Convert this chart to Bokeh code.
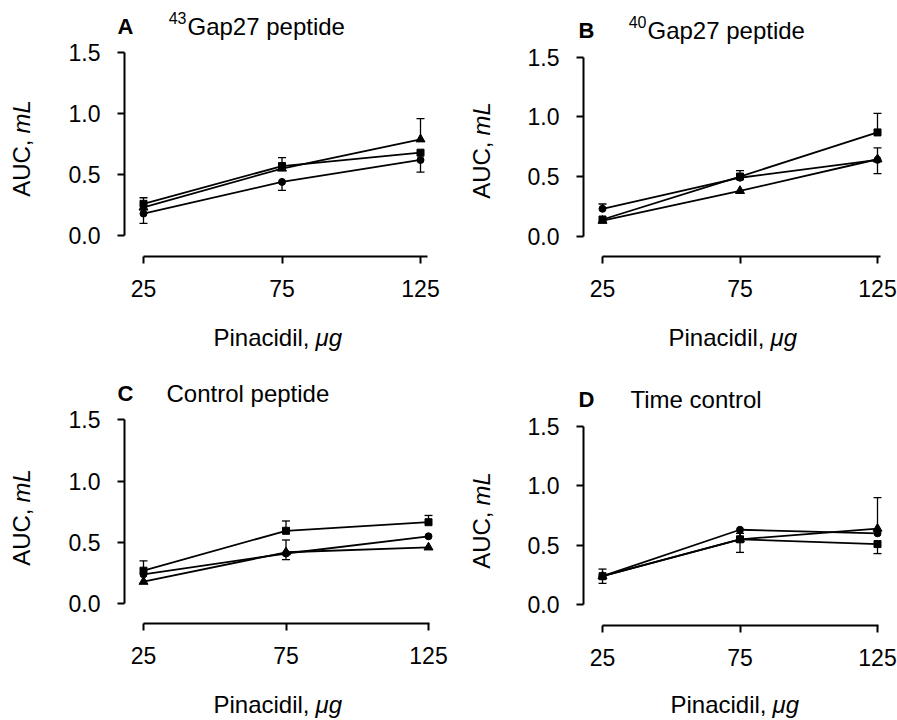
from math import pi
from bokeh.plotting import figure
from bokeh.layouts import gridplot
from bokeh.models import (Label, Range1d, FixedTicker, Whisker, ColumnDataSource,
                          TeeHead, PrintfTickFormatter, LinearAxis)
from bokeh.embed import file_html
from bokeh.resources import INLINE

# ---------------- data ----------------
doses = [25, 75, 125]
x_tick_values = [25, 75, 125]
y_tick_values = [0.0, 0.5, 1.0, 1.5]
x_label_main = "Pinacidil,"
x_label_unit = "μg"
y_label_main = "AUC,"
y_label_unit = "mL"

panel_letters = ["A", "B", "C", "D"]
panel_title_sup = ["43", "40", "", ""]
panel_title_main = ["Gap27 peptide", "Gap27 peptide", "Control peptide", "Time control"]

# Panel A: 43Gap27 peptide
a_circle = [0.18, 0.44, 0.62]
a_circle_err_up = [0.0, 0.0, 0.0]
a_circle_err_dn = [0.08, 0.07, 0.10]
a_square = [0.26, 0.57, 0.68]
a_square_err_up = [0.05, 0.07, 0.0]
a_square_err_dn = [0.0, 0.0, 0.0]
a_triangle = [0.23, 0.55, 0.79]
a_triangle_err_up = [0.0, 0.0, 0.17]
a_triangle_err_dn = [0.0, 0.0, 0.0]

# Panel B: 40Gap27 peptide
b_circle = [0.23, 0.49, 0.64]
b_circle_err_up = [0.04, 0.06, 0.0]
b_circle_err_dn = [0.0, 0.0, 0.0]
b_square = [0.14, 0.50, 0.87]
b_square_err_up = [0.0, 0.0, 0.16]
b_square_err_dn = [0.0, 0.0, 0.0]
b_triangle = [0.13, 0.38, 0.645]
b_triangle_err_up = [0.0, 0.0, 0.095]
b_triangle_err_dn = [0.0, 0.0, 0.12]

# Panel C: Control peptide
c_circle = [0.24, 0.41, 0.55]
c_circle_err_up = [0.0, 0.0, 0.0]
c_circle_err_dn = [0.0, 0.05, 0.0]
c_square = [0.27, 0.595, 0.665]
c_square_err_up = [0.08, 0.08, 0.055]
c_square_err_dn = [0.0, 0.0, 0.0]
c_triangle = [0.18, 0.42, 0.46]
c_triangle_err_up = [0.0, 0.10, 0.0]
c_triangle_err_dn = [0.0, 0.0, 0.0]

# Panel D: Time control
d_circle = [0.24, 0.63, 0.60]
d_circle_err_up = [0.0, 0.0, 0.0]
d_circle_err_dn = [0.0, 0.0, 0.0]
d_square = [0.24, 0.55, 0.51]
d_square_err_up = [0.0, 0.05, 0.0]
d_square_err_dn = [0.06, 0.11, 0.08]
d_triangle = [0.24, 0.55, 0.64]
d_triangle_err_up = [0.06, 0.0, 0.26]
d_triangle_err_dn = [0.0, 0.0, 0.0]

panel_series = [
    [("circle", a_circle, a_circle_err_up, a_circle_err_dn),
     ("square", a_square, a_square_err_up, a_square_err_dn),
     ("triangle", a_triangle, a_triangle_err_up, a_triangle_err_dn)],
    [("circle", b_circle, b_circle_err_up, b_circle_err_dn),
     ("square", b_square, b_square_err_up, b_square_err_dn),
     ("triangle", b_triangle, b_triangle_err_up, b_triangle_err_dn)],
    [("circle", c_circle, c_circle_err_up, c_circle_err_dn),
     ("square", c_square, c_square_err_up, c_square_err_dn),
     ("triangle", c_triangle, c_triangle_err_up, c_triangle_err_dn)],
    [("circle", d_circle, d_circle_err_up, d_circle_err_dn),
     ("square", d_square, d_square_err_up, d_square_err_dn),
     ("triangle", d_triangle, d_triangle_err_up, d_triangle_err_dn)],
]

# ---------------- layout / style ----------------
FONT = "Liberation Sans"
TICK_SIZE = "23px"
TITLE_SIZE = "24px"
LETTER_SIZE = "22px"
SUP_SIZE = "16px"
BASE_SHIFT = 8  # correction between requested and drawn text baseline (px)

# figure boxes (screen px): left column / right column, top row / bottom row
COL_BOX = [(0, 459), (459, 438)]      # (x, width)
ROW_BOX = [(0, 365), (365, 355)]      # (y, height)

# per panel geometry in screen px
PANEL_GEO = [
    dict(x25=143, xsc=2.77, zero=235.0, ysc=121.8, yaxis=124, xaxis=256, xend=427,
         letter=(117, 34), sup=(186, 25), main=(187, 34), ylab=(29, 136), xlab=(311, 345)),
    dict(x25=602, xsc=2.75, zero=235.7, ysc=119.3, yaxis=583, xaxis=256, xend=880,
         letter=(578, 38), sup=(646, 29), main=(647, 38), ylab=(489, 138), xlab=(766, 345)),
    dict(x25=143, xsc=2.85, zero=603.3, ysc=122.7, yaxis=124, xaxis=623, xend=429,
         letter=(117, 401), sup=None, main=(166, 401), ylab=(29, 505), xlab=(311, 712)),
    dict(x25=602, xsc=2.75, zero=604.3, ysc=119.1, yaxis=583, xaxis=625, xend=878,
         letter=(578, 407), sup=None, main=(630, 407), ylab=(489, 508), xlab=(768, 712)),
]

MARK_SIZE = {"circle": 7, "square": 7, "triangle": 9}


def make_panel(idx):
    fx, fw = COL_BOX[idx % 2]
    fy, fh = ROW_BOX[idx // 2]
    g = PANEL_GEO[idx]

    def X(px):
        return x_tick_values[0] + (px - g["x25"]) / g["xsc"]

    def Y(py):
        return (g["zero"] - py) / g["ysc"]

    def TY(py):  # horizontal text baseline
        return Y(py - BASE_SHIFT)

    def TX(px):  # rotated text baseline
        return X(px - BASE_SHIFT)

    p = figure(frame_width=fw, frame_height=fh,
               x_range=Range1d(X(fx), X(fx + fw)), y_range=Range1d(Y(fy + fh), Y(fy)),
               output_backend="svg", toolbar_location=None,
               x_axis_location=None, y_axis_location=None,
               min_border=0, min_border_left=0, min_border_right=0,
               min_border_top=0, min_border_bottom=0)
    p.outline_line_color = None
    p.xgrid.visible = False
    p.ygrid.visible = False
    p.background_fill_color = "white"
    p.border_fill_color = "white"

    xaxis = LinearAxis(fixed_location=Y(g["xaxis"]), ticker=FixedTicker(ticks=x_tick_values),
                       bounds=(x_tick_values[0], X(g["xend"])), major_label_standoff=16)
    yaxis = LinearAxis(fixed_location=X(g["yaxis"]), ticker=FixedTicker(ticks=y_tick_values),
                       formatter=PrintfTickFormatter(format="%.1f"),
                       bounds=(y_tick_values[0], y_tick_values[-1]), major_label_standoff=17)
    for ax in (xaxis, yaxis):
        ax.axis_line_width = 2
        ax.axis_line_color = "black"
        ax.major_tick_line_width = 2
        ax.major_tick_line_color = "black"
        ax.major_tick_out = 7
        ax.major_tick_in = 0
        ax.minor_tick_line_color = None
        ax.major_label_text_font = FONT
        ax.major_label_text_font_size = TICK_SIZE
        ax.major_label_text_color = "black"
    p.add_layout(xaxis, "below")
    p.add_layout(yaxis, "left")

    for marker, vals, up, dn in panel_series[idx]:
        p.line(doses, vals, line_width=1.8, line_color="black")
        ub = [d for d, e in zip(doses, up) if e > 0]
        ul = [v for v, e in zip(vals, up) if e > 0]
        uu = [v + e for v, e in zip(vals, up) if e > 0]
        if ub:
            src = ColumnDataSource(dict(base=ub, lower=ul, upper=uu))
            p.add_layout(Whisker(source=src, base="base", lower="lower", upper="upper",
                                 line_width=1.3, line_color="black", lower_head=None,
                                 upper_head=TeeHead(size=8, line_width=1.3, line_color="black")))
        db = [d for d, e in zip(doses, dn) if e > 0]
        dl = [v - e for v, e in zip(vals, dn) if e > 0]
        du = [v for v, e in zip(vals, dn) if e > 0]
        if db:
            src = ColumnDataSource(dict(base=db, lower=dl, upper=du))
            p.add_layout(Whisker(source=src, base="base", lower="lower", upper="upper",
                                 line_width=1.3, line_color="black", upper_head=None,
                                 lower_head=TeeHead(size=8, line_width=1.3, line_color="black")))
        p.scatter(doses, vals, marker=marker, size=MARK_SIZE[marker],
                  fill_color="black", line_color="black")

    # panel letter and title
    lx, ly = g["letter"]
    p.add_layout(Label(x=X(lx), y=TY(ly), text=panel_letters[idx], text_font=FONT,
                       text_font_size=LETTER_SIZE, text_font_style="bold",
                       text_align="left", text_baseline="alphabetic", text_color="black"))
    if g["sup"] is not None and panel_title_sup[idx]:
        sx_, sy_ = g["sup"]
        p.add_layout(Label(x=X(sx_), y=TY(sy_), text=panel_title_sup[idx], text_font=FONT,
                           text_font_size=SUP_SIZE, text_align="right",
                           text_baseline="alphabetic", text_color="black"))
    mx, my = g["main"]
    p.add_layout(Label(x=X(mx), y=TY(my), text=panel_title_main[idx], text_font=FONT,
                       text_font_size=TITLE_SIZE, text_align="left",
                       text_baseline="alphabetic", text_color="black"))

    # x axis label: "Pinacidil, μg" (unit in italic)
    xx, xy = g["xlab"]
    p.add_layout(Label(x=X(xx - 2), y=TY(xy), text=x_label_main, text_font=FONT,
                       text_font_size=TITLE_SIZE, text_align="right",
                       text_baseline="alphabetic", text_color="black"))
    p.add_layout(Label(x=X(xx + 4), y=TY(xy), text=x_label_unit, text_font=FONT,
                       text_font_size=TITLE_SIZE, text_font_style="italic", text_align="left",
                       text_baseline="alphabetic", text_color="black"))

    # y axis label: "AUC, mL" rotated (unit in italic)
    yx, yy = g["ylab"]
    p.add_layout(Label(x=TX(yx), y=Y(yy + 3), text=y_label_main, text_font=FONT,
                       text_font_size=TITLE_SIZE, text_align="right", angle=pi / 2,
                       text_baseline="alphabetic", text_color="black"))
    p.add_layout(Label(x=TX(yx), y=Y(yy - 3), text=y_label_unit, text_font=FONT,
                       text_font_size=TITLE_SIZE, text_font_style="italic", text_align="left",
                       angle=pi / 2, text_baseline="alphabetic", text_color="black"))
    return p


panels = [make_panel(i) for i in range(4)]
grid = gridplot([[panels[0], panels[1]], [panels[2], panels[3]]], toolbar_location=None)

open("out.html", "w").write(file_html(grid, INLINE))
